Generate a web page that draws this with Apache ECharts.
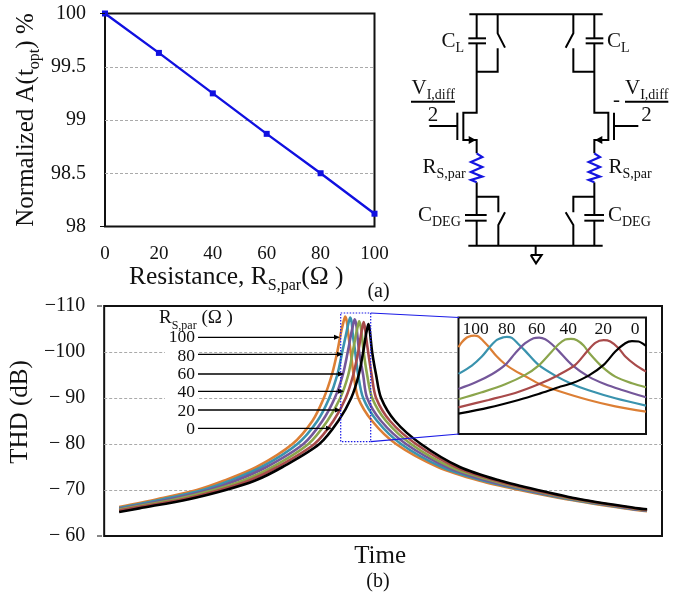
<!DOCTYPE html>
<html><head><meta charset="utf-8">
<script src="https://cdn.jsdelivr.net/npm/echarts@6/dist/echarts.min.js"></script>
<style>html,body{margin:0;padding:0;background:#fff}#c{width:683px;height:595px}</style>
</head><body><div id="c"></div>
<script>
// (a) normalized amplitude against parasitic resistance
const resistance = [0, 20, 40, 60, 80, 100];
const normalizedA = [100, 99.63, 99.25, 98.87, 98.5, 98.12];

// (b) THD against time: [time (arb.), dB]
const thd100 = [[15,-66.3],[53,-68],[93,-70],[120,-72],[153,-75],[189,-80],[209,-85],[220.5,-90],[228.5,-95],[234,-100],[237.5,-104],[240.3,-106.6],[242,-107.7],[243.6,-106.6],[245,-104],[247.5,-100],[250.5,-95],[255,-90],[269,-85],[293,-80],[335,-75],[377,-72],[417,-70],[464,-68],[523,-66],[545,-65.4]];
const thd80 = [[15,-66.1],[59,-68],[99,-70],[126,-72],[158,-75],[194,-80],[214,-85],[226,-90],[234,-95],[239,-100],[243,-104],[245.4,-106.4],[247,-107.5],[248.5,-106.4],[249.5,-104],[252,-100],[255,-95],[260,-90],[274,-85],[298,-80],[339,-75],[381,-72],[421,-70],[467,-68],[526,-66],[545,-65.5]];
const thd60 = [[15,-65.9],[18,-66],[66,-68],[105,-70],[132,-72],[163,-75],[200,-80],[219,-85],[231.5,-90],[239.5,-95],[244.5,-100],[248,-104],[250,-106],[251.5,-107.1],[253,-106],[254,-104],[256,-100],[260,-95],[264,-90],[278,-85],[303,-80],[344,-75],[385,-72],[424,-70],[470,-68],[528,-66],[545,-65.5]];
const thd40 = [[15,-65.7],[22,-66],[72,-68],[110,-70],[139,-72],[169,-75],[205,-80],[224,-85],[237,-90],[245,-95],[249.5,-100],[253,-104],[254.7,-105.7],[256,-106.7],[257.4,-105.7],[258.5,-104],[260.5,-100],[264,-95],[269,-90],[283,-85],[308,-80],[348,-75],[390,-72],[428,-70],[472,-68],[531,-66],[545,-65.6]];
const thd20 = [[15,-65.5],[27,-66],[79,-68],[116,-70],[145,-72],[174,-75],[211,-80],[230,-85],[242.5,-90],[250,-95],[255,-100],[258,-104],[259.3,-105.4],[260.5,-106.5],[261.7,-105.4],[262.5,-104],[265,-100],[268.5,-95],[273,-90],[287,-85],[313,-80],[353,-75],[394,-72],[431,-70],[475,-68],[533,-66],[545,-65.7]];
const thd0 = [[15,-65.2],[35,-66],[85,-68],[122,-70],[151,-72],[179,-75],[216,-80],[235,-85],[248,-90],[255.5,-95],[260,-100],[263,-104],[264.2,-105.2],[265.3,-106.1],[266.3,-105.2],[267,-104],[269,-100],[273,-95],[278,-90],[292,-85],[318,-80],[357,-75],[398,-72],[435,-70],[478,-68],[536,-66],[545,-65.8]];

// (b) inset: its own stretched time and dB scale
const inset100 = [[0,-104.58],[10,-105.83],[25,-107],[38,-107.42],[48,-107.5],[60,-107.25],[75,-106.08],[90,-104.75],[115,-102.25],[140,-100.33],[170,-98.67],[195,-97.58],[245,-95.33],[300,-93.67],[390,-91.42],[470,-89.83],[562,-88.5]];
const inset80 = [[0,-97.92],[40,-100],[70,-102.25],[95,-104.75],[115,-106.42],[135,-107.08],[145,-107.17],[160,-106.92],[180,-105.33],[200,-103.67],[240,-100.17],[290,-97.5],[340,-95.42],[390,-93.83],[470,-91.83],[562,-90]];
const inset60 = [[0,-94.17],[50,-95.75],[100,-97.83],[140,-100.17],[170,-103.08],[200,-105.58],[225,-106.83],[242,-107],[260,-106.58],[280,-105.33],[300,-103.67],[340,-100.17],[390,-97.25],[440,-95.33],[490,-93.92],[562,-92.08]];
const inset40 = [[0,-91.58],[70,-93.33],[140,-95.33],[200,-97.67],[240,-100],[275,-103.08],[300,-105.33],[320,-106.5],[337,-106.67],[355,-106.33],[375,-105],[395,-102.83],[430,-99.75],[470,-97.25],[520,-95.58],[562,-94.58]];
const inset20 = [[0,-89.58],[90,-91.42],[170,-93.17],[240,-95.33],[300,-97.67],[350,-100.17],[385,-103.5],[410,-105.67],[435,-106.33],[455,-106],[480,-104.33],[500,-102.25],[530,-100.17],[562,-98.5]];
const inset0 = [[0,-88],[90,-89.5],[180,-91.42],[240,-92.92],[300,-94.58],[340,-95.58],[390,-97.5],[435,-100.17],[470,-103.5],[500,-105.58],[520,-106.08],[540,-106],[555,-105.33],[562,-104.92]];

const thdTicks = {'-110':'\u2212110','-100':'\u2212100','-90':'\u2212 90','-80':'\u2212 80','-70':'\u2212 70','-60':'\u2212 60'};
const curveLabels = ['100','80','60','40','20','0'];
const curveColors = ['#DC7F35','#3A93AE','#74579A','#8BA54C','#A84A4A','#000000'];

const FONT = '"Liberation Serif","Times New Roman",serif';
const chart = echarts.init(document.getElementById('c'));

const mainCurves = [thd100, thd80, thd60, thd40, thd20, thd0];
const insetCurves = [inset100, inset80, inset60, inset40, inset20, inset0];
const curveSeries = (curves, ax, width) => curves.map((d, i) => ({
  type: 'line', name: curveLabels[i], xAxisIndex: ax, yAxisIndex: ax, data: d,
  showSymbol: false, smooth: 0.3,
  lineStyle: {color: curveColors[i], width: width},
  itemStyle: {color: curveColors[i]}, silent: true, animation: false
}));

// ---- annotation drawing (circuit, arrows, labels) ----
const g = [];
const poly = (pts, color, width, z, extra) => g.push(Object.assign({type:'polyline', z: z || 5,
  shape:{points:pts}, style:{stroke:color||'#000', lineWidth:width||2, fill:null, lineJoin:'miter'}}, extra||{}));
const text = (x, y, t, size, align, rich) => g.push({type:'text', z:6, style:{x, y, text:t, fontFamily:FONT, fontSize:size,
  fill:'#111', align:align||'left', verticalAlign:'middle', rich:rich}});
const subRich = (main, sub) => ({m:{fontFamily:FONT,fontSize:main,lineHeight:main+8,fill:'#111',color:'#111'},
  s:{fontFamily:FONT,fontSize:sub,lineHeight:sub,verticalAlign:'bottom',fill:'#111',color:'#111'}});
const z = (x, y) => [400 + x / 3, y / 3];          // circuit sketch grid
const cl = (arr) => poly(arr.map(p => z(p[0], p[1])));
const RES_L = [[230,460],[247,471],[213,486],[247,501],[213,516],[247,530],[213,540],[230,547]];

[ [[208,43],[608,43]], [[205,737],[608,737]],
  // left branch
  [[230,43],[230,115]], [[205,115],[258,115]], [[205,130],[258,130]], [[230,130],[230,338],[190,338],[190,420],[230,420],[230,460]],
  [[172,338],[172,420]], [[88,378],[172,378]],
  [[293,43],[293,100],[315,143]], [[293,145],[293,215],[230,215]],
  [[230,547],[230,645]], [[195,645],[260,645]], [[195,662],[260,662]], [[230,662],[230,737]],
  [[230,590],[295,590],[295,637]], [[315,637],[295,675],[295,737]],
  // right branch
  [[583,43],[583,115]], [[557,115],[610,115]], [[557,130],[610,130]], [[583,130],[583,338],[625,338],[625,420],[583,420],[583,460]],
  [[642,338],[642,420]], [[642,378],[715,378]],
  [[520,43],[520,100],[497,143]], [[520,145],[520,215],[583,215]],
  [[583,547],[583,645]], [[553,645],[612,645]], [[553,662],[612,662]], [[583,662],[583,737]],
  [[583,590],[520,590],[520,637]], [[497,637],[520,675],[520,737]],
  // ground
  [[407,737],[407,765]], [[392,765],[425,765],[408,790],[392,765]],
  // fraction bars
  [[33,305],[165,305]], [[675,305],[805,305]]
].forEach(cl);
poly(RES_L.map(p => z(p[0], p[1])), '#1414e0', 2.2);
poly(RES_L.map(p => z(p[0] + 353, p[1])), '#1414e0', 2.2);
g.push({type:'polygon', z:5, shape:{points:[z(228,420),z(206,408),z(206,432)]}, style:{fill:'#000'}});
g.push({type:'polygon', z:5, shape:{points:[z(585,420),z(607,408),z(607,432)]}, style:{fill:'#000'}});

const circuitRich = subRich(21, 14);
const sub = (a, b) => '{m|' + a + '}{s|' + b + '}';
text(441.5, 41, sub('C','L'), 21, 'left', circuitRich);
text(607, 41, sub('C','L'), 21, 'left', circuitRich);
text(411.5, 88, sub('V','I,diff'), 21, 'left', circuitRich);
text(625, 88, sub('V','I,diff'), 21, 'left', circuitRich);
text(433, 115, '2', 21, 'center');
text(646.5, 115, '2', 21, 'center');
text(616.5, 100, '-', 21, 'center');
text(422.5, 167, sub('R','S,par'), 21, 'left', circuitRich);
text(608.5, 167, sub('R','S,par'), 21, 'left', circuitRich);
text(418, 215, sub('C','DEG'), 21, 'left', circuitRich);
text(608, 215, sub('C','DEG'), 21, 'left', circuitRich);

// panel captions
text(378.5, 292, '(a)', 20, 'center');
text(378, 582, '(b)', 20, 'center');

// end tick stubs on the two value axes
poly([[100,13.5],[105,13.5]], '#111', 1);
poly([[100,226.5],[105,226.5]], '#111', 1);
poly([[97,306],[102,306]], '#111', 1);
poly([[97,536],[102,536]], '#111', 1);

// mask behind arrow labels, inset box, zoom rectangle and connectors
g.push({type:'rect', z:1, shape:{x:165,y:345,width:32,height:55}, style:{fill:'#fff'}});
g.push({type:'rect', z:1, shape:{x:458.5,y:317.5,width:187.5,height:116.5}, style:{fill:'#fff', stroke:'#111', lineWidth:2}});
g.push({type:'rect', z:5, shape:{x:340.7,y:313,width:30,height:128.7}, style:{fill:null, stroke:'#1a1ae6', lineWidth:1.2, lineDash:[1.5,1.5]}});
poly([[370.7,313],[459,317.5]], '#1a1ae6', 1.2);
poly([[370.7,441.7],[459,434]], '#1a1ae6', 1.2);

// arrow labels of (b)
text(159, 318, '{m|R}{s|S,par}{m| (\u03a9 )}', 19, 'left', subRich(19, 12));
const arrowLabelY = [337.7, 356, 374.7, 392.7, 411, 429];
const arrowY = [337.3, 354.3, 374, 391.3, 410, 428.3];
const arrowEnd = [340, 343, 344, 344, 341, 332];
curveLabels.forEach((lab, i) => {
  text(195, arrowLabelY[i], lab, 17.5, 'right');
  poly([[198, arrowY[i]], [arrowEnd[i] - 4, arrowY[i]]], '#000', 1.3);
  g.push({type:'polygon', z:6, shape:{points:[[arrowEnd[i], arrowY[i]], [arrowEnd[i]-6, arrowY[i]-2.5], [arrowEnd[i]-6, arrowY[i]+2.5]]}, style:{fill:'#000'}});
});
// curve labels in the inset
const insetLabelX = [475.7, 506.7, 536.7, 568.3, 603.3, 635];
curveLabels.forEach((lab, i) => text(insetLabelX[i], 329, lab, 17.5, 'center'));

const dash = {show:true, showMinLine:false, showMaxLine:false, lineStyle:{color:'#aaaaaa', type:[3,2], width:1}};
const axisFont = {fontFamily:FONT, fontSize:20, color:'#111'};
const nameFont = {fontFamily:FONT, fontSize:25, color:'#111'};

chart.setOption({
  animation:false, backgroundColor:'#fff',
  grid:[
    {left:105, width:269.5, top:13.5, height:213, show:true, borderColor:'#111', borderWidth:2, backgroundColor:'transparent', containLabel:false},
    {left:102, width:560, top:306, height:230, show:true, borderColor:'#111', borderWidth:2, backgroundColor:'transparent', containLabel:false},
    {left:458.5, width:187.5, top:317.5, height:116.5, show:false, containLabel:false}
  ],
  xAxis:[
    {gridIndex:0, type:'value', min:0, max:100, interval:20, splitLine:{show:false}, axisLine:{show:false}, axisTick:{show:false},
     axisLabel:Object.assign({margin:18, showMinLabel:true, showMaxLabel:true, hideOverlap:false}, axisFont, {fontSize:19}),
     name:'{m|Resistance, R}{s|S,par}{m|(\u03a9 )}', nameLocation:'middle', nameGap:34,
     nameTextStyle:{color:'#111', padding:[0,7,0,0], rich:subRich(25.5, 16)}},
    {gridIndex:1, type:'value', min:0, max:560, splitLine:{show:false}, axisLine:{show:false}, axisTick:{show:false}, axisLabel:{show:false},
     name:'Time', nameLocation:'middle', nameGap:8, nameTextStyle:Object.assign({padding:[0,6,0,0]}, nameFont)},
    {gridIndex:2, type:'value', min:0, max:562, show:false}
  ],
  yAxis:[
    {gridIndex:0, type:'value', min:98, max:100, interval:0.5, splitLine:dash, axisLine:{show:false}, axisTick:{show:false},
     axisLabel:Object.assign({margin:19, showMinLabel:true, showMaxLabel:true}, axisFont),
     name:'{m|Normalized A(t}{s|opt}{m|) %}', nameLocation:'middle', nameGap:62, nameRotate:90,
     nameTextStyle:{color:'#111', rich:subRich(25, 16)}},
    {gridIndex:1, type:'value', min:-110, max:-60, interval:10, inverse:true, splitLine:dash, axisLine:{show:false}, axisTick:{show:false},
     axisLabel:Object.assign({margin:19, showMinLabel:true, showMaxLabel:true, formatter:v => thdTicks[String(v)]}, axisFont),
     name:'THD (dB)', nameLocation:'middle', nameGap:64, nameRotate:90, nameTextStyle:Object.assign({padding:[0,0,0,18]}, nameFont)},
    {gridIndex:2, type:'value', min:-112, max:-82.92, inverse:true, show:false}
  ],
  series:[
    {type:'line', name:'Normalized A', xAxisIndex:0, yAxisIndex:0, data:resistance.map((r,i)=>[r,normalizedA[i]]),
     symbol:'rect', symbolSize:6, showSymbol:true, clip:false, lineStyle:{color:'#1010e0', width:2.4}, itemStyle:{color:'#1010e0'}, silent:true},
    ...curveSeries(mainCurves, 1, 2.6),
    ...curveSeries(insetCurves, 2, 2.2)
  ],
  graphic:{elements:g}
});
</script></body></html>
